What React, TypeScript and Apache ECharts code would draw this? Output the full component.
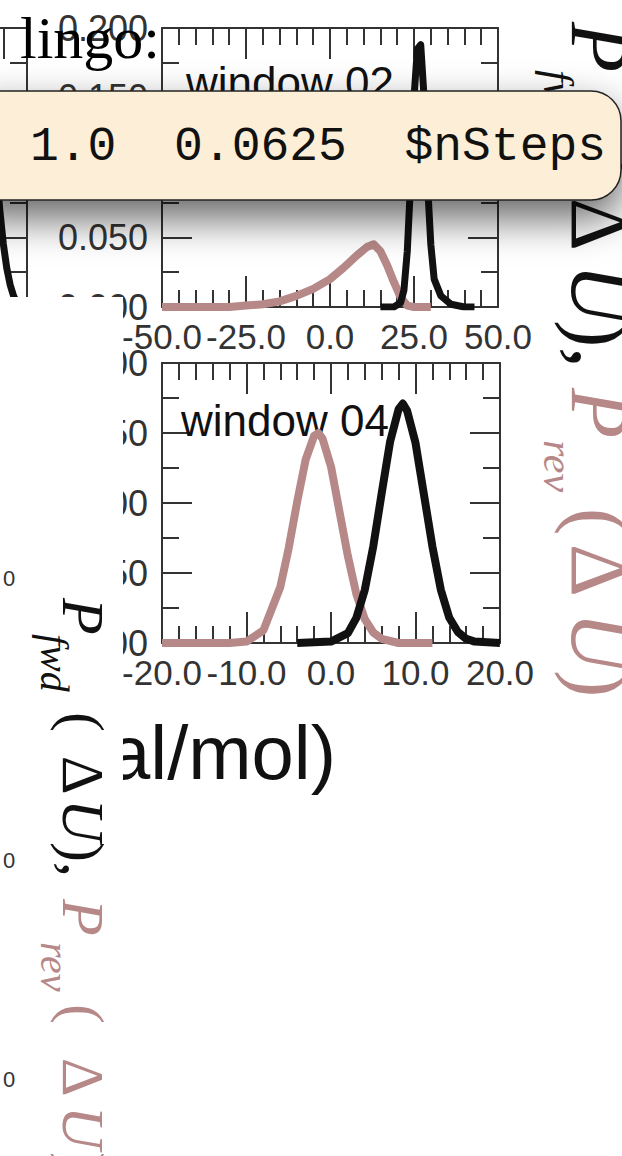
import React, { useEffect, useRef } from "react";
import * as echarts from "echarts";

// ---- tick labels ----
const win02XTicks = [-50, -25, 0, 25, 50];
const win04XTicks = [-20, -10, 0, 10, 20];
const probTicks = [0, 0.05, 0.1, 0.15, 0.2];
const win01XRange = [42, 50];
const win01XTickValues = [43];

// ---- series values ([ΔU, P]) ----
const win02Fwd: [number, number][] = [
  [15, 0], [19, 0], [21, 0.003], [22, 0.012], [23, 0.04], [24, 0.09], [25, 0.15],
  [26, 0.185], [27, 0.188], [28, 0.15], [29, 0.09], [30, 0.045], [31, 0.02],
  [33, 0.008], [36, 0.002], [40, 0], [43, 0],
];
const win02Rev: [number, number][] = [
  [-50, 0], [-40, 0], [-30, 0], [-25, 0.001], [-20, 0.002], [-15, 0.004], [-10, 0.008],
  [-5, 0.013], [0, 0.02], [4, 0.028], [8, 0.037], [11, 0.043], [13, 0.045], [15, 0.04],
  [17, 0.03], [19, 0.018], [21, 0.007], [23, 0.001], [25, 0], [30, 0],
];
const win04Fwd: [number, number][] = [
  [-4, 0], [0, 0.001], [2, 0.007], [3, 0.018], [4, 0.038], [5, 0.069], [6, 0.107],
  [7, 0.144], [8, 0.167], [8.5, 0.171], [9, 0.166], [10, 0.143], [11, 0.106], [12, 0.069],
  [13, 0.038], [14, 0.018], [15, 0.008], [16, 0.003], [17, 0.001], [20, 0],
];
const win04Rev: [number, number][] = [
  [-20, 0], [-12, 0], [-10, 0.001], [-8, 0.009], [-6, 0.04], [-5, 0.068], [-4, 0.101],
  [-3, 0.131], [-2, 0.148], [-1.5, 0.15], [-1, 0.146], [0, 0.126], [1, 0.094], [2, 0.062],
  [3, 0.035], [4, 0.017], [5, 0.0075], [6, 0.003], [8, 0], [12, 0],
];
const win01Fwd: [number, number][] = [
  [36, 0.19], [38, 0.16], [40, 0.12], [41, 0.095], [42, 0.068], [43, 0.045],
  [44, 0.028], [45, 0.016], [46, 0.008], [47, 0.003], [48, 0], [50, 0],
];

const BLACK = "#111111";
const BROWN = "#b78888";
const AX = { color: "#333333", width: 2 };

function xAx(gridIndex: number, ticks: number[], position: string, labels: boolean) {
  return {
    type: "value", gridIndex, position,
    min: ticks[0], max: ticks[ticks.length - 1], interval: ticks[1] - ticks[0],
    axisLine: { show: true, onZero: false, lineStyle: AX },
    axisTick: { show: true, inside: true, length: 31, lineStyle: AX },
    minorTick: { show: true, splitNumber: 5, length: 17, lineStyle: AX },
    splitLine: { show: false }, minorSplitLine: { show: false },
    axisLabel: {
      show: labels, fontSize: 35, fontFamily: "Liberation Sans", color: "#333",
      margin: 12, showMinLabel: true, showMaxLabel: true, hideOverlap: false,
      formatter: (v: number) => v.toFixed(1),
    },
  };
}
function yAx(gridIndex: number, ticks: number[], position: string, labels: boolean) {
  return {
    type: "value", gridIndex, position,
    min: ticks[0], max: ticks[ticks.length - 1], interval: ticks[1] - ticks[0],
    axisLine: { show: true, onZero: false, lineStyle: AX },
    axisTick: { show: true, inside: true, length: 30, lineStyle: AX },
    minorTick: { show: true, splitNumber: 2, length: 17, lineStyle: AX },
    splitLine: { show: false }, minorSplitLine: { show: false },
    axisLabel: {
      show: labels, fontSize: 36, fontFamily: "Liberation Sans", color: "#333",
      margin: 14, showMinLabel: true, showMaxLabel: true, hideOverlap: false,
      formatter: (v: number) => v.toFixed(3),
    },
  };
}
function line(data: [number, number][], color: string, width: number, xi: number, yi: number) {
  return {
    type: "line", data, xAxisIndex: xi, yAxisIndex: yi, showSymbol: false, symbol: "none",
    lineStyle: { color, width, join: "round" }, z: 3,
  };
}
function txt(text: string, x: number, y: number, font: string, fill: string, z: number) {
  return {
    type: "text", x, y, z,
    style: { text, font, fill, align: "left", verticalAlign: "middle" },
  };
}

const SERIF = "'Liberation Serif'";

export default function App() {
  const ref = useRef<HTMLDivElement>(null);
  useEffect(() => {
    if (!ref.current) return;
    const chart = echarts.init(ref.current, null, { renderer: "svg" });
    const R = 82, RS = 42, L = 60, LS = 40;
    const rMid = -0.34 * R, rSub = 28 - 0.34 * RS;
    const lMid = -0.34 * L, lSub = 22 - 0.34 * LS;
    chart.setOption({
      animation: false,
      backgroundColor: "#ffffff",
      grid: [
        { left: 162, top: 28, width: 336, height: 279 },
        { left: 162, top: 363, width: 338, height: 280 },
        { left: 0, top: 28, width: 27, height: 279 },
      ],
      xAxis: [
        xAx(0, win02XTicks, "bottom", true),
        xAx(0, win02XTicks, "top", false),
        xAx(1, win04XTicks, "bottom", true),
        xAx(1, win04XTicks, "top", false),
        {
          type: "value", gridIndex: 2, position: "top",
          min: win01XRange[0], max: win01XRange[1],
          axisLine: { show: true, onZero: false, lineStyle: AX },
          axisTick: { show: true, inside: true, length: 31, lineStyle: AX, customValues: win01XTickValues },
          minorTick: { show: false },
          splitLine: { show: false },
          axisLabel: { show: false },
        },
      ],
      yAxis: [
        yAx(0, probTicks, "left", true),
        yAx(0, probTicks, "right", false),
        yAx(1, probTicks, "left", true),
        yAx(1, probTicks, "right", false),
        yAx(2, probTicks, "right", false),
      ],
      series: [
        line(win02Rev, BROWN, 8, 0, 0),
        line(win02Fwd, BLACK, 7, 0, 0),
        line(win04Rev, BROWN, 8, 2, 2),
        line(win04Fwd, BLACK, 8, 2, 2),
        line(win01Fwd, BLACK, 7, 4, 4),
      ],
      graphic: [
        txt("window 02", 186, 82, "44px 'Liberation Sans'", "#111", 1),
        txt("window 04", 181, 420, "44px 'Liberation Sans'", "#111", 1),
        {
          type: "group", x: 572, y: 0, rotation: -Math.PI / 2,
          children: [
            txt("P", 22, rMid, `italic ${R}px ${SERIF}`, BLACK, 20),
            txt("fwd", 70, rSub, `italic ${RS}px ${SERIF}`, BLACK, 20),
            txt("(", 150, rMid, `${R}px ${SERIF}`, BLACK, 20),
            txt("Δ", 198, rMid, `${R}px ${SERIF}`, BLACK, 20),
            txt("U", 264, rMid, `italic ${R}px ${SERIF}`, BLACK, 20),
            txt("),", 320, rMid, `${R}px ${SERIF}`, BLACK, 20),
            txt("P", 388, rMid, `italic ${R}px ${SERIF}`, BROWN, 20),
            txt("rev", 440, rSub, `italic ${RS}px ${SERIF}`, BROWN, 20),
            txt("(", 508, rMid, `${R}px ${SERIF}`, BROWN, 20),
            txt("Δ", 544, rMid, `${R}px ${SERIF}`, BROWN, 20),
            txt("U", 612, rMid, `italic ${R}px ${SERIF}`, BROWN, 20),
            txt(")", 670, rMid, `${R}px ${SERIF}`, BROWN, 20),
          ],
        },
        {
          type: "rect", z: 30,
          shape: { x: -40, y: 91, width: 661, height: 109, r: 30 },
          style: {
            fill: "#fdefd7", stroke: "#222", lineWidth: 1.5,
            shadowBlur: 40, shadowOffsetY: 18, shadowColor: "rgba(0,0,0,0.6)",
          },
        },
        txt("1.0  0.0625  $nSteps", 30, 147, "48px 'Liberation Mono'", "#111", 31),
        txt("lingo:", 20, 38, `60px ${SERIF}`, "#000", 40),
        txt("al/mol)", 108, 752, "76px 'Liberation Sans'", "#111", 45),
        {
          type: "rect", z: 50, shape: { x: 0, y: 297, width: 123, height: 859 },
          style: { fill: "#ffffff" },
        },
        {
          type: "group", x: 63, y: 0, rotation: -Math.PI / 2,
          children: [
            txt("P", 598, lMid, `italic ${L}px ${SERIF}`, BLACK, 60),
            txt("fwd", 634, lSub, `italic ${LS}px ${SERIF}`, BLACK, 60),
            txt("(", 712, lMid, `${L}px ${SERIF}`, BLACK, 60),
            txt("Δ", 756, lMid, `${L}px ${SERIF}`, BLACK, 60),
            txt("U", 799, lMid, `italic ${L}px ${SERIF}`, BLACK, 60),
            txt("),", 842, lMid, `${L}px ${SERIF}`, BLACK, 60),
            txt("P", 899, lMid, `italic ${L}px ${SERIF}`, BROWN, 60),
            txt("rev", 942, lSub, `italic ${LS}px ${SERIF}`, BROWN, 60),
            txt("(", 1004, lMid, `${L}px ${SERIF}`, BROWN, 60),
            txt("Δ", 1058, lMid, `${L}px ${SERIF}`, BROWN, 60),
            txt("U", 1106, lMid, `italic ${L}px ${SERIF}`, BROWN, 60),
            txt(")", 1152, lMid, `${L}px ${SERIF}`, BROWN, 60),
          ],
        },
        txt("0", 3, 578, "22px 'Liberation Sans'", "#333", 60),
        txt("0", 3, 860, "22px 'Liberation Sans'", "#333", 60),
        txt("0", 3, 1079, "22px 'Liberation Sans'", "#333", 60),
      ],
    });
    return () => chart.dispose();
  }, []);
  return (
    <div
      ref={ref}
      style={{ position: "absolute", left: 0, top: 0, width: 622, height: 1156, background: "#fff" }}
    />
  );
}
